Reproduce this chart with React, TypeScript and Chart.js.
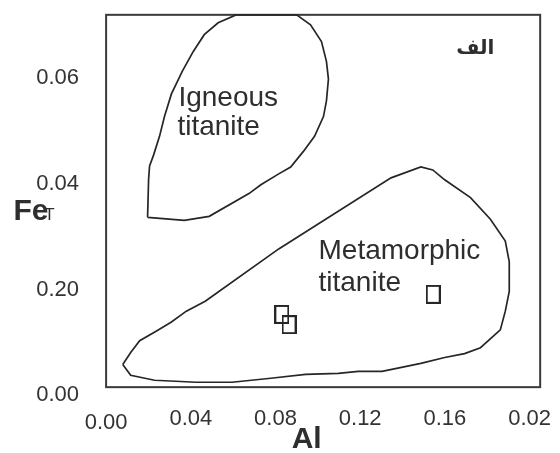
import React, { useEffect, useRef } from 'react';
import { Chart, registerables } from 'chart.js';

Chart.register(...registerables);

// Axis ticks (labels exactly as printed in the figure)
const xTickValues = [0, 0.04, 0.08, 0.12, 0.16, 0.2];
const xTickLabels = ['0.00', '0.04', '0.08', '0.12', '0.16', '0.02'];
const yTickValues = [0, 0.02, 0.04, 0.06];
const yTickLabels = ['0.00', '0.20', '0.04', '0.06'];

// Igneous titanite field outline (Al, FeT)
const igneousAl = [
  0.01959, 0.02006, 0.02053, 0.02241, 0.02522, 0.02757, 0.03085, 0.03602, 0.04118,
  0.04634, 0.05291, 0.06136, 0.08998, 0.09655, 0.10171, 0.10406, 0.105, 0.10406,
  0.10265, 0.09843, 0.09327, 0.08717, 0.08153, 0.07309, 0.06746, 0.04869, 0.03695,
  0.01959,
];
const igneousFe = [
  0.03364, 0.04073, 0.04334, 0.04539, 0.04894, 0.05267, 0.05696, 0.06125, 0.06498,
  0.06815, 0.07039, 0.07189, 0.07189, 0.07002, 0.06685, 0.06312, 0.05976, 0.05565,
  0.05267, 0.04894, 0.04614, 0.04315, 0.04185, 0.0398, 0.03812, 0.03383, 0.03308,
  0.03364,
];

// Metamorphic titanite field outline (Al, FeT)
const metamorphicAl = [
  0.00786, 0.01161, 0.01584, 0.02381, 0.03085, 0.03789, 0.04681, 0.08153, 0.13456,
  0.14864, 0.15427, 0.1599, 0.1721, 0.18149, 0.18853, 0.1904, 0.1904, 0.18853,
  0.18618, 0.1768, 0.16929, 0.1599, 0.14864, 0.13034, 0.11908, 0.10969, 0.0942,
  0.07778, 0.05948, 0.04259, 0.02288, 0.01161, 0.00786,
];
const metamorphicFe = [
  0.00584, 0.00808, 0.01032, 0.01218, 0.01386, 0.01591, 0.01778, 0.02767, 0.0411,
  0.04315, 0.04259, 0.04073, 0.03737, 0.03327, 0.02916, 0.02524, 0.01965, 0.01591,
  0.01237, 0.00901, 0.00789, 0.00715, 0.00603, 0.00453, 0.00453, 0.00416, 0.00397,
  0.00323, 0.00248, 0.00248, 0.00285, 0.00379, 0.00584,
];

// Analysed samples
const sampleAl = [0.083, 0.0864, 0.1545];
const sampleFe = [0.0153, 0.01336, 0.01909];

// Plot frame extent (data units)
const frameAl = [0, 0.205];
const frameFe = [0.00155, 0.0719];

const FONT = '"Liberation Sans", Arial, Helvetica, sans-serif';
const INK = '#2e2e2e';

const toPoints = (xs: number[], ys: number[]) => xs.map((x, i) => ({ x, y: ys[i] }));

function makeMarker(): HTMLCanvasElement {
  const c = document.createElement('canvas');
  c.width = 15;
  c.height = 19;
  const g = c.getContext('2d')!;
  g.strokeStyle = '#262626';
  g.lineWidth = 2;
  g.strokeRect(1, 1, 13, 17);
  return c;
}

const annotations = [
  { text: 'Igneous', x: 0.03414, y: 0.05472, font: `28px ${FONT}`, align: 'left' },
  { text: 'titanite', x: 0.03367, y: 0.04912, font: `28px ${FONT}`, align: 'left' },
  { text: 'Metamorphic', x: 0.10031, y: 0.0258, font: `28px ${FONT}`, align: 'left' },
  { text: 'titanite', x: 0.10031, y: 0.01965, font: `28px ${FONT}`, align: 'left' },
  { text: 'الف', x: 0.18336, y: 0.06442, font: `bold 20px "DejaVu Sans", sans-serif`, align: 'right' },
  { text: 'Fe', x: -0.04376, y: 0.03308, font: `bold 30px ${FONT}`, align: 'left' },
  { text: 'T', x: -0.02921, y: 0.03308, font: `17px ${FONT}`, align: 'left' },
  { text: 'Al', x: 0.08764, y: -0.01002, font: `bold 30px ${FONT}`, align: 'left' },
];

const decorPlugin = {
  id: 'decor',
  beforeDatasetsDraw(chart: any) {
    const { ctx, scales } = chart;
    const xs = scales.x;
    const ys = scales.y;
    const x0 = xs.getPixelForValue(frameAl[0]);
    const x1 = xs.getPixelForValue(frameAl[1]);
    const y0 = ys.getPixelForValue(frameFe[0]);
    const y1 = ys.getPixelForValue(frameFe[1]);
    ctx.save();
    ctx.strokeStyle = '#3a3a3a';
    ctx.lineWidth = 2;
    ctx.strokeRect(x0, y1, x1 - x0, y0 - y1);
    ctx.restore();
  },
  afterDatasetsDraw(chart: any) {
    const { ctx, scales } = chart;
    const xs = scales.x;
    const ys = scales.y;
    ctx.save();
    ctx.fillStyle = INK;
    ctx.textBaseline = 'alphabetic';
    for (const a of annotations) {
      ctx.font = a.font;
      ctx.textAlign = a.align as CanvasTextAlign;
      ctx.fillText(a.text, xs.getPixelForValue(a.x), ys.getPixelForValue(a.y));
    }
    ctx.restore();
  },
};

export default function App() {
  const ref = useRef<HTMLCanvasElement | null>(null);

  useEffect(() => {
    if (!ref.current) return;
    const marker = makeMarker();
    const lineStyle = {
      showLine: true,
      pointRadius: 0,
      pointHoverRadius: 0,
      borderColor: '#262626',
      borderWidth: 1.7,
      tension: 0,
      fill: false,
    };
    const chart = new Chart(ref.current, {
      type: 'scatter',
      data: {
        datasets: [
          { label: 'Igneous titanite', data: toPoints(igneousAl, igneousFe), ...lineStyle },
          { label: 'Metamorphic titanite', data: toPoints(metamorphicAl, metamorphicFe), ...lineStyle },
          {
            label: 'Samples',
            data: toPoints(sampleAl, sampleFe),
            pointStyle: marker,
            pointRadius: 8,
            pointHoverRadius: 8,
            backgroundColor: 'rgba(0,0,0,0)',
            borderColor: '#262626',
          },
        ],
      },
      options: {
        responsive: false,
        animation: false,
        devicePixelRatio: 1,
        events: [],
        layout: { padding: { top: 4, right: 6, bottom: 0, left: 0 } },
        plugins: { legend: { display: false }, tooltip: { enabled: false }, title: { display: false } },
        scales: {
          x: {
            type: 'linear',
            min: -0.010441,
            max: 0.210113,
            afterBuildTicks: (s: any) => {
              s.ticks = xTickValues.map((v) => ({ value: v }));
            },
            afterFit: (s: any) => {
              s.height = 53;
              s.paddingLeft = 0;
              s.paddingRight = 0;
            },
            grid: { display: false, drawTicks: false },
            border: { display: false },
            ticks: {
              autoSkip: false,
              maxRotation: 0,
              minRotation: 0,
              padding: 6,
              color: '#333',
              font: (c: any) => ({ family: FONT, size: 22, lineHeight: c.index === 0 ? 1.56 : 1.2 }),
              callback: (_v: any, i: number) => xTickLabels[i],
            },
          },
          y: {
            type: 'linear',
            min: -0.000877,
            max: 0.073,
            afterBuildTicks: (s: any) => {
              s.ticks = yTickValues.map((v) => ({ value: v }));
            },
            afterFit: (s: any) => {
              s.width = 84;
              s.paddingTop = 0;
              s.paddingBottom = 0;
            },
            grid: { display: false, drawTicks: false },
            border: { display: false },
            ticks: {
              autoSkip: false,
              padding: 5,
              color: '#333',
              font: { family: FONT, size: 22 },
              callback: (_v: any, i: number) => yTickLabels[i],
            },
          },
        },
      },
      plugins: [decorPlugin],
    } as any);
    return () => chart.destroy();
  }, []);

  return (
    <div style={{ position: 'fixed', left: 0, top: 0, width: 560, height: 453, background: '#fff' }}>
      <canvas ref={ref} width={560} height={453} style={{ display: 'block', width: 560, height: 453 }} />
    </div>
  );
}
